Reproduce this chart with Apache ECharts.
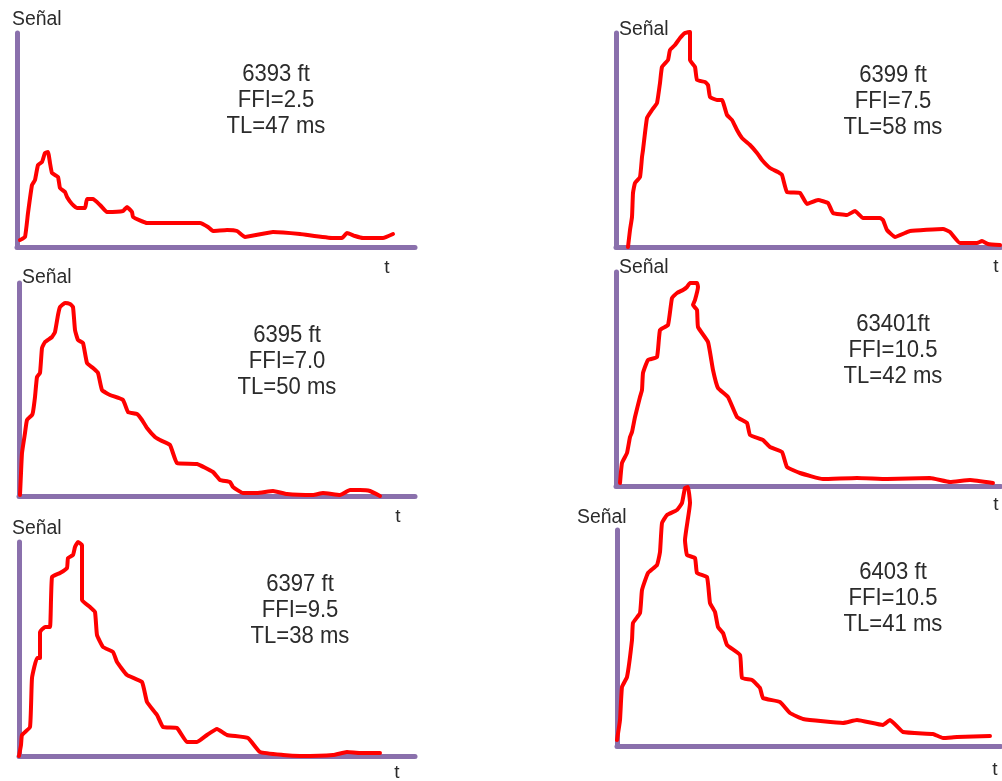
<!DOCTYPE html>
<html>
<head>
<meta charset="utf-8">
<script src="https://cdn.jsdelivr.net/npm/echarts@6/dist/echarts.min.js"></script>
<style>
  html, body { margin: 0; padding: 0; background: #fff; }
  #chart { width: 1002px; height: 781px; }
</style>
</head>
<body>
<div id="chart"></div>
<script>
// signal curves: [t, signal] in plot units
const curve6393 = [[3,7],[8,10],[11,34],[15,62],[18,67],[21,82],[25,85],[28,94],[31,95],[33,84],[35,74],[41,70],[43,59],[48,55],[50,50],[55,43],[60,39],[68,39],[70,48],[76,48],[83,42],[90,35],[106,36],[110,40],[115,35],[116,30],[130,24],[183,24],[191,20],[196,16],[210,17],[220,16],[228,10],[256,15],[283,13],[316,9],[325,9],[330,14],[338,11],[346,9],[366,9],[376,13]];
const curve6399 = [[12,0],[14,17],[16,30],[17,54],[19,64],[24,70],[26,90],[27,97],[31,129],[36,137],[41,144],[44,164],[46,180],[52,187],[54,197],[59,202],[64,209],[69,214],[74,215],[74,187],[79,180],[81,167],[89,165],[92,162],[94,150],[101,147],[106,147],[111,132],[116,127],[121,117],[126,109],[134,102],[141,94],[146,87],[154,79],[162,75],[166,72],[171,55],[184,54],[191,43],[202,47],[212,44],[217,34],[231,32],[239,36],[247,29],[264,29],[267,27],[271,17],[279,10],[289,14],[294,16],[327,18],[334,15],[344,4],[361,4],[366,6],[372,3],[384,2]];
const curve6395 = [[1,1],[2,23],[3,43],[6,63],[8,76],[13,81],[14,84],[16,99],[18,119],[21,123],[23,148],[26,154],[33,159],[36,164],[39,181],[41,189],[46,193],[51,192],[54,189],[56,166],[59,156],[64,153],[68,133],[74,128],[79,123],[83,106],[91,101],[104,96],[109,84],[118,82],[123,76],[128,68],[136,59],[141,56],[151,51],[158,33],[178,32],[194,24],[201,16],[211,14],[214,9],[224,3],[238,3],[254,5],[268,2],[294,1],[304,3],[321,1],[331,6],[341,6],[351,5],[361,0]];
const curve63401 = [[4,3],[6,23],[11,33],[14,49],[16,54],[19,69],[24,89],[26,96],[27,113],[32,126],[41,129],[44,156],[52,161],[56,188],[61,193],[67,196],[71,199],[74,203],[81,203],[82,199],[79,186],[77,181],[81,176],[82,159],[92,144],[97,116],[102,98],[112,89],[121,69],[131,63],[134,51],[147,46],[154,39],[166,34],[171,19],[184,13],[207,7],[241,8],[271,7],[314,8],[334,4],[354,6],[377,3]];
const curve6397 = [[0,0],[2,11],[3,21],[11,29],[13,78],[18,98],[21,98],[21,124],[26,129],[31,129],[33,179],[41,183],[48,188],[49,198],[54,201],[56,209],[59,214],[63,211],[63,156],[71,149],[76,144],[78,121],[84,109],[94,104],[98,94],[108,81],[123,74],[128,54],[138,41],[144,29],[158,28],[168,14],[178,14],[188,21],[198,27],[208,21],[229,18],[241,4],[264,1],[281,0],[314,1],[328,4],[341,3],[361,3]];
const curve6403 = [[0,6],[3,26],[5,59],[10,69],[15,106],[16,123],[23,133],[25,156],[31,173],[40,181],[43,194],[45,223],[50,231],[60,236],[65,243],[68,258],[71,259],[73,243],[68,206],[70,191],[78,188],[80,173],[90,169],[93,143],[98,134],[101,119],[106,113],[110,101],[123,91],[125,68],[135,66],[143,58],[146,48],[163,44],[173,33],[186,27],[226,23],[240,26],[266,21],[273,26],[286,14],[316,12],[326,8],[340,9],[373,10]];

const depths = ['6393 ft', '6399 ft', '6395 ft', '63401ft', '6397 ft', '6403 ft'];
const ffi = ['FFI=2.5', 'FFI=7.5', 'FFI=7.0', 'FFI=10.5', 'FFI=9.5', 'FFI=10.5'];
const tl = ['TL=47 ms', 'TL=58 ms', 'TL=50 ms', 'TL=42 ms', 'TL=38 ms', 'TL=41 ms'];
const curves = [curve6393, curve6399, curve6395, curve63401, curve6397, curve6403];
const xMax = [398, 385, 396, 385, 396, 384];
const yMax = [214, 214, 213, 214, 214, 216];

// panel layout (px)
const panels = [
  { left: 17,  top: 33,  w: 398, h: 214, note: [276, 100], sen: [12, 19],  t: [387, 268] },
  { left: 616, top: 33,  w: 385, h: 214, note: [893, 101], sen: [619, 29], t: [996, 267] },
  { left: 19,  top: 283, w: 396, h: 213, note: [287, 361], sen: [22, 277], t: [398, 517] },
  { left: 616, top: 272, w: 385, h: 214, note: [893, 350], sen: [619, 267], t: [996, 505] },
  { left: 19,  top: 542, w: 396, h: 214, note: [300, 610], sen: [12, 528], t: [397, 773] },
  { left: 617, top: 530, w: 384, h: 216, note: [893, 598], sen: [577, 517], t: [995, 770] }
];

const axisColor = '#8a70ac';
const font = '"Liberation Sans", Arial, sans-serif';

const grid = [], xAxis = [], yAxis = [], series = [], graphic = [];
panels.forEach((p, i) => {
  grid.push({ left: p.left, top: p.top, width: p.w, height: p.h });
  const axisBase = {
    gridIndex: i, type: 'value', min: 0,
    axisLine: { show: true, lineStyle: { color: axisColor, width: 5, cap: 'round' } },
    axisTick: { show: false }, axisLabel: { show: false }, splitLine: { show: false }
  };
  xAxis.push(Object.assign({}, axisBase, { max: xMax[i] }));
  yAxis.push(Object.assign({}, axisBase, { max: yMax[i] }));
  series.push({
    type: 'line', xAxisIndex: i, yAxisIndex: i, data: curves[i],
    showSymbol: false, clip: false, smooth: 0.12, z: 3,
    lineStyle: { color: '#ff0000', width: 4, join: 'round', cap: 'round' }
  });
  graphic.push({
    type: 'text', x: p.note[0], y: p.note[1], scaleX: 0.92,
    style: {
      text: depths[i] + '\n' + ffi[i] + '\n' + tl[i],
      font: '24px ' + font, fill: '#2b2b2b', align: 'center', verticalAlign: 'middle', lineHeight: 26
    }
  });
  graphic.push({
    type: 'text', x: p.sen[0], y: p.sen[1], scaleX: 0.97,
    style: { text: 'Señal', font: '20px ' + font, fill: '#2b2b2b', align: 'left', verticalAlign: 'middle' }
  });
  graphic.push({
    type: 'text', x: p.t[0], y: p.t[1],
    style: { text: 't', font: '19px ' + font, fill: '#2b2b2b', align: 'center', verticalAlign: 'middle' }
  });
});

const chart = echarts.init(document.getElementById('chart'));
chart.setOption({
  animation: false,
  backgroundColor: '#fff',
  grid, xAxis, yAxis, series, graphic
});
</script>
</body>
</html>
